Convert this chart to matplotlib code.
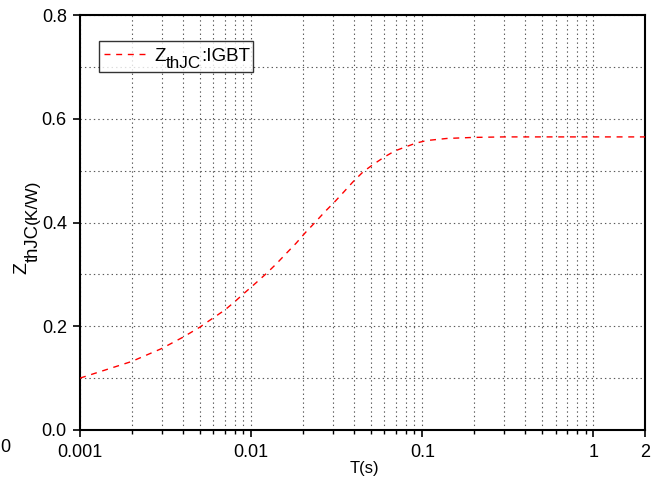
import matplotlib
matplotlib.use("Agg")
import matplotlib.pyplot as plt
from matplotlib.ticker import FixedLocator, FixedFormatter, NullFormatter, MultipleLocator

plt.rcParams['font.family'] = ['Liberation Sans', 'DejaVu Sans']
plt.rcParams['mathtext.fontset'] = 'custom'
plt.rcParams['mathtext.rm'] = 'Liberation Sans'
plt.rcParams['mathtext.it'] = 'Liberation Sans'
plt.rcParams['lines.scale_dashes'] = False

# Data
T = [0.001, 0.002, 0.003, 0.004, 0.005, 0.006, 0.007, 0.008, 0.0092, 0.0107,
     0.0123, 0.0141, 0.0161, 0.0183, 0.0208, 0.0236, 0.0270, 0.0306, 0.0348,
     0.0395, 0.0452, 0.0517, 0.0605, 0.0692, 0.0802, 0.0918, 0.106, 0.139,
     0.198, 0.3, 0.5, 1.0, 2.0]
Z = [0.100, 0.132, 0.157, 0.179, 0.198, 0.216, 0.231, 0.247, 0.265, 0.284,
     0.302, 0.321, 0.341, 0.360, 0.381, 0.400, 0.421, 0.439, 0.459,
     0.479, 0.498, 0.512, 0.527, 0.538, 0.546, 0.553, 0.558, 0.562,
     0.564, 0.565, 0.565, 0.565, 0.565]

x_ticks = [0.001, 0.01, 0.1, 1, 2]
x_ticklabels = ['0.001', '0.01', '0.1', '1', '2']
y_ticks = [0.0, 0.2, 0.4, 0.6, 0.8]
y_ticklabels = ['0.0', '0.2', '0.4', '0.6', '0.8']
legend_parts = ['Z', 'thJC', ':IGBT']
ylabel_parts = ['Z', 'thJC', '(K/W)']
xlabel = 'T(s)'

fig = plt.figure(figsize=(6.56, 4.84), dpi=100)
ax = fig.add_axes([80/656, 54/484, 565/656, 415/484])

ax.plot(T, Z, color='#ff0000', lw=1.0, dashes=(4.3, 4.1),
        label=r'%s$_{\mathrm{%s}}$%s' % tuple(legend_parts), zorder=3)

ax.set_xscale('log')
ax.set_xlim(0.001, 2)
ax.set_ylim(0, 0.8)

ax.xaxis.set_major_locator(FixedLocator(x_ticks))
ax.xaxis.set_major_formatter(FixedFormatter(x_ticklabels))
minors = [m * 10.0**e for e in (-3, -2, -1) for m in range(2, 10)]
ax.xaxis.set_minor_locator(FixedLocator(minors))
ax.xaxis.set_minor_formatter(NullFormatter())
ax.yaxis.set_major_locator(FixedLocator(y_ticks))
ax.yaxis.set_major_formatter(FixedFormatter(y_ticklabels))
ax.yaxis.set_minor_locator(MultipleLocator(0.1))

ax.grid(which='both', axis='both', linestyle=(0, (1, 2.2)), color='0.35', lw=0.8)
ax.set_axisbelow(True)

ax.tick_params(axis='both', which='major', direction='out', length=5, width=1.2,
               labelsize=13, top=False, right=False)
ax.tick_params(axis='x', which='major', pad=4.8)
ax.tick_params(axis='y', which='major', pad=4.5)
ax.tick_params(axis='x', which='minor', direction='out', length=3, width=1.0)
ax.tick_params(axis='y', which='minor', length=0)

for s in ax.spines.values():
    s.set_linewidth(1.5)

# x label
ax.set_xlabel(xlabel, fontsize=12)
ax.xaxis.set_label_coords((364.4 - 80) / 565, -(460.8 - 430) / 415)

# y label built of pieces: Z, subscript thJC, (K/W)
ax.set_ylabel(ylabel_parts[0], fontsize=14)
ylab = ax.yaxis.label
ax.yaxis.set_label_coords(-(80 - 26.7) / 565, (430 - 274) / 415)
ylab.set_ha('left')
ylab.set_va('baseline')
ylab.set_rotation_mode('anchor')
y1 = ax.annotate(ylabel_parts[1], xy=(37.3, 1), xycoords=('figure pixels', ylab),
                 fontsize=13.3, rotation=90, rotation_mode='anchor',
                 ha='left', va='baseline', annotation_clip=False)
y2 = ax.annotate(ylabel_parts[2], xy=(37.0, 1), xycoords=('figure pixels', y1),
                 fontsize=12.5, rotation=90, rotation_mode='anchor',
                 ha='left', va='baseline', annotation_clip=False)

# legend: real legend (label kept invisible) overlaid by text pieces with a large subscript
leg = ax.legend(loc='upper left', bbox_to_anchor=((99 - 80) / 565, (430 - 40.7) / 415),
                fontsize=14, frameon=True, fancybox=False, edgecolor='black',
                handlelength=2.26, borderpad=0.28, handletextpad=0.31, borderaxespad=0)
leg.get_frame().set_linewidth(1.0)
frame = leg.get_frame()
leg.get_texts()[0].set_alpha(0)
p0 = ax.annotate(legend_parts[0], xy=(0, 1), xycoords=frame, xytext=(55, -20),
                 textcoords='offset pixels', fontsize=13.5,
                 ha='left', va='baseline', annotation_clip=False, zorder=6)
p1 = ax.annotate(legend_parts[1], xy=(1, 0), xycoords=p0, xytext=(0.5, -3.3),
                 textcoords='offset pixels', fontsize=12.3,
                 ha='left', va='baseline', annotation_clip=False, zorder=6)
p2 = ax.annotate(legend_parts[2], xy=(1, 0), xycoords=(p1, p0), fontsize=13.5,
                 ha='left', va='bottom', annotation_clip=False, zorder=6)

fig.text(0, 1 - 447/484, '0', fontsize=13, va='center', ha='left')

fig.savefig('out.png', dpi=100)
